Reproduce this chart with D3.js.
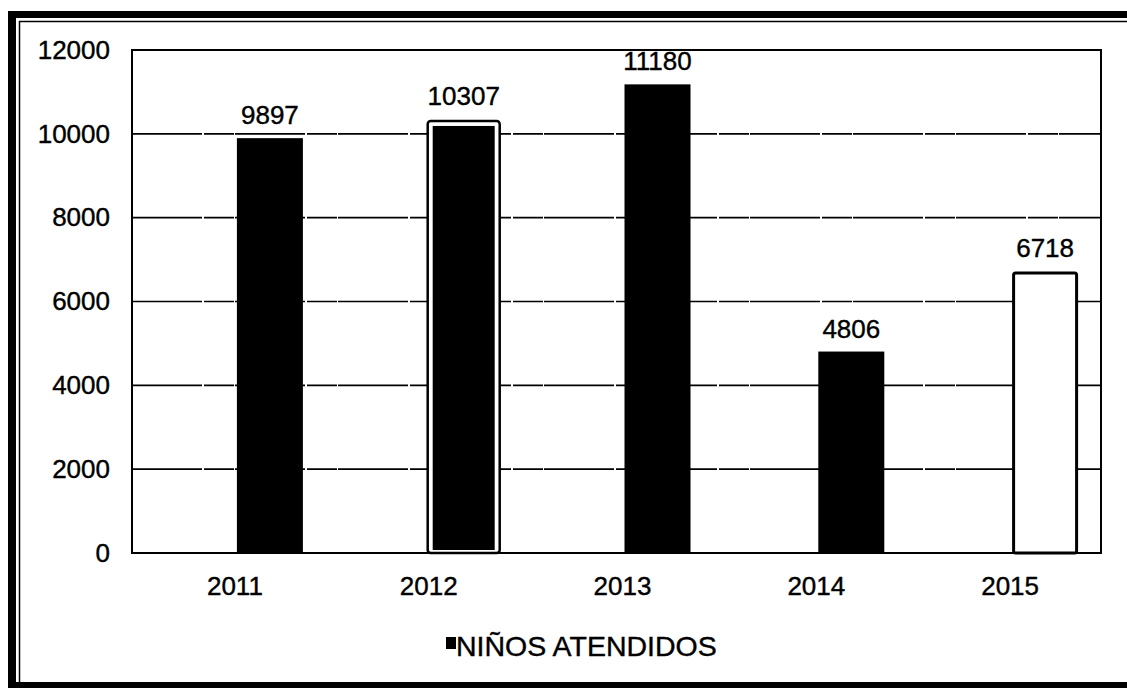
<!DOCTYPE html>
<html>
<head>
<meta charset="utf-8">
<script src="https://cdn.jsdelivr.net/npm/d3@7"></script>
<style>
  body { margin: 0; background: #fff; }
  svg text { font-family: "Liberation Sans", Arial, sans-serif; fill: #000; stroke: #000; stroke-width: 0.4px; }
</style>
</head>
<body>
<div id="chart"></div>
<script>
// chart data
const years = ['2011', '2012', '2013', '2014', '2015'];
const ninosAtendidos = [9897, 10307, 11180, 4806, 6718];
const yTicks = [0, 2000, 4000, 6000, 8000, 10000, 12000];
const seriesName = 'NIÑOS ATENDIDOS';

const width = 1127;
const height = 688;
const plot = { left: 132, top: 50, right: 1101, bottom: 553 };

const svg = d3.select('#chart')
  .append('svg')
  .attr('width', width)
  .attr('height', height);

svg.append('rect')
  .attr('width', width)
  .attr('height', height)
  .attr('fill', '#fff');

// outer scanned frame
svg.append('rect').attr('x', 8).attr('y', 12).attr('width', 8).attr('height', height - 12).attr('fill', '#000');
svg.append('rect').attr('x', 8).attr('y', 11).attr('width', width - 8).attr('height', 7).attr('fill', '#000');
svg.append('rect').attr('x', 8).attr('y', 682).attr('width', width - 8).attr('height', 6).attr('fill', '#000');
svg.append('line').attr('x1', 19.5).attr('x2', 19.5).attr('y1', 21).attr('y2', 682)
  .attr('stroke', '#000').attr('stroke-width', 1.5);
svg.append('line').attr('x1', 19).attr('x2', width).attr('y1', 21.5).attr('y2', 21.5)
  .attr('stroke', '#000').attr('stroke-width', 1.5);

// scales
const x = d3.scaleBand()
  .domain(years)
  .range([plot.left, plot.right]);

const bw = x.bandwidth();
// two slots per year, the first one is empty (Excel clustered layout)
const x1 = d3.scaleBand()
  .domain(['', seriesName])
  .range([bw / 2 - 58, bw / 2 + 74]);

const y = d3.scaleLinear()
  .domain([0, 12000])
  .range([plot.bottom, plot.top]);

// gridlines
svg.append('g')
  .selectAll('line')
  .data(yTicks.filter(t => t > 0 && t < 12000))
  .join('line')
  .attr('x1', plot.left)
  .attr('x2', plot.right)
  .attr('y1', d => y(d))
  .attr('y2', d => y(d))
  .attr('stroke', '#000')
  .attr('stroke-width', 1.6)
  .attr('stroke-dasharray', '70,2,30,1');

// plot frame
svg.append('rect')
  .attr('x', plot.left)
  .attr('y', plot.top)
  .attr('width', plot.right - plot.left)
  .attr('height', plot.bottom - plot.top)
  .attr('fill', 'none')
  .attr('stroke', '#000')
  .attr('stroke-width', 2);

// axes
const yAxis = svg.append('g')
  .attr('transform', `translate(${plot.left - 22},0)`)
  .call(d3.axisLeft(y).tickValues(yTicks).tickSize(0).tickPadding(0).tickFormat(d3.format('d')));
yAxis.select('.domain').remove();
yAxis.selectAll('text')
  .style('font-size', '26px')
  .style('font-family', '"Liberation Sans", Arial, sans-serif');

const xAxis = svg.append('g')
  .attr('transform', `translate(0,${plot.bottom})`)
  .call(d3.axisBottom(x).tickSize(0).tickPadding(24));
xAxis.select('.domain').remove();
xAxis.selectAll('text')
  .attr('dx', 6)
  .style('font-size', '26px')
  .style('font-family', '"Liberation Sans", Arial, sans-serif');

// bars
const bars = svg.append('g')
  .selectAll('g')
  .data(years.map((yr, i) => ({ year: yr, value: ninosAtendidos[i], i })))
  .join('g')
  .attr('transform', d => `translate(${x(d.year) + x1(seriesName)},0)`);

bars.each(function(d) {
  const g = d3.select(this);
  const w = x1.bandwidth();
  const top = y(d.value);
  const h = y(0) - top;
  if (d.year === '2012') {
    // outlined bar with a white gap
    g.append('rect')
      .attr('x', -3).attr('y', top).attr('width', w + 6).attr('height', h)
      .attr('rx', 3)
      .attr('fill', '#fff').attr('stroke', '#000').attr('stroke-width', 2.5);
    g.append('rect')
      .attr('x', 2).attr('y', top + 5).attr('width', w - 4).attr('height', h - 8)
      .attr('fill', '#000');
  } else if (d.year === '2015') {
    g.append('rect')
      .attr('x', 1.5).attr('y', top + 1.5).attr('width', w - 3).attr('height', h - 1.5)
      .attr('rx', 2)
      .attr('fill', '#fff').attr('stroke', '#000').attr('stroke-width', 3);
  } else {
    g.append('rect')
      .attr('x', 0).attr('y', top).attr('width', w).attr('height', h)
      .attr('fill', '#000');
  }
});

// value labels
bars.append('text')
  .attr('x', x1.bandwidth() / 2)
  .attr('y', d => y(d.value) - (d.year === '2012' ? 16 : 14))
  .attr('text-anchor', 'middle')
  .style('font-size', '26px')
  .text(d => d.value);

// legend
const legend = svg.append('g').attr('transform', 'translate(446,637)');
legend.append('rect')
  .attr('width', 10).attr('height', 12)
  .attr('fill', '#000');
legend.append('text')
  .attr('x', 10)
  .attr('y', 19)
  .style('font-size', '28.5px')
  .text(seriesName);
</script>
</body>
</html>
